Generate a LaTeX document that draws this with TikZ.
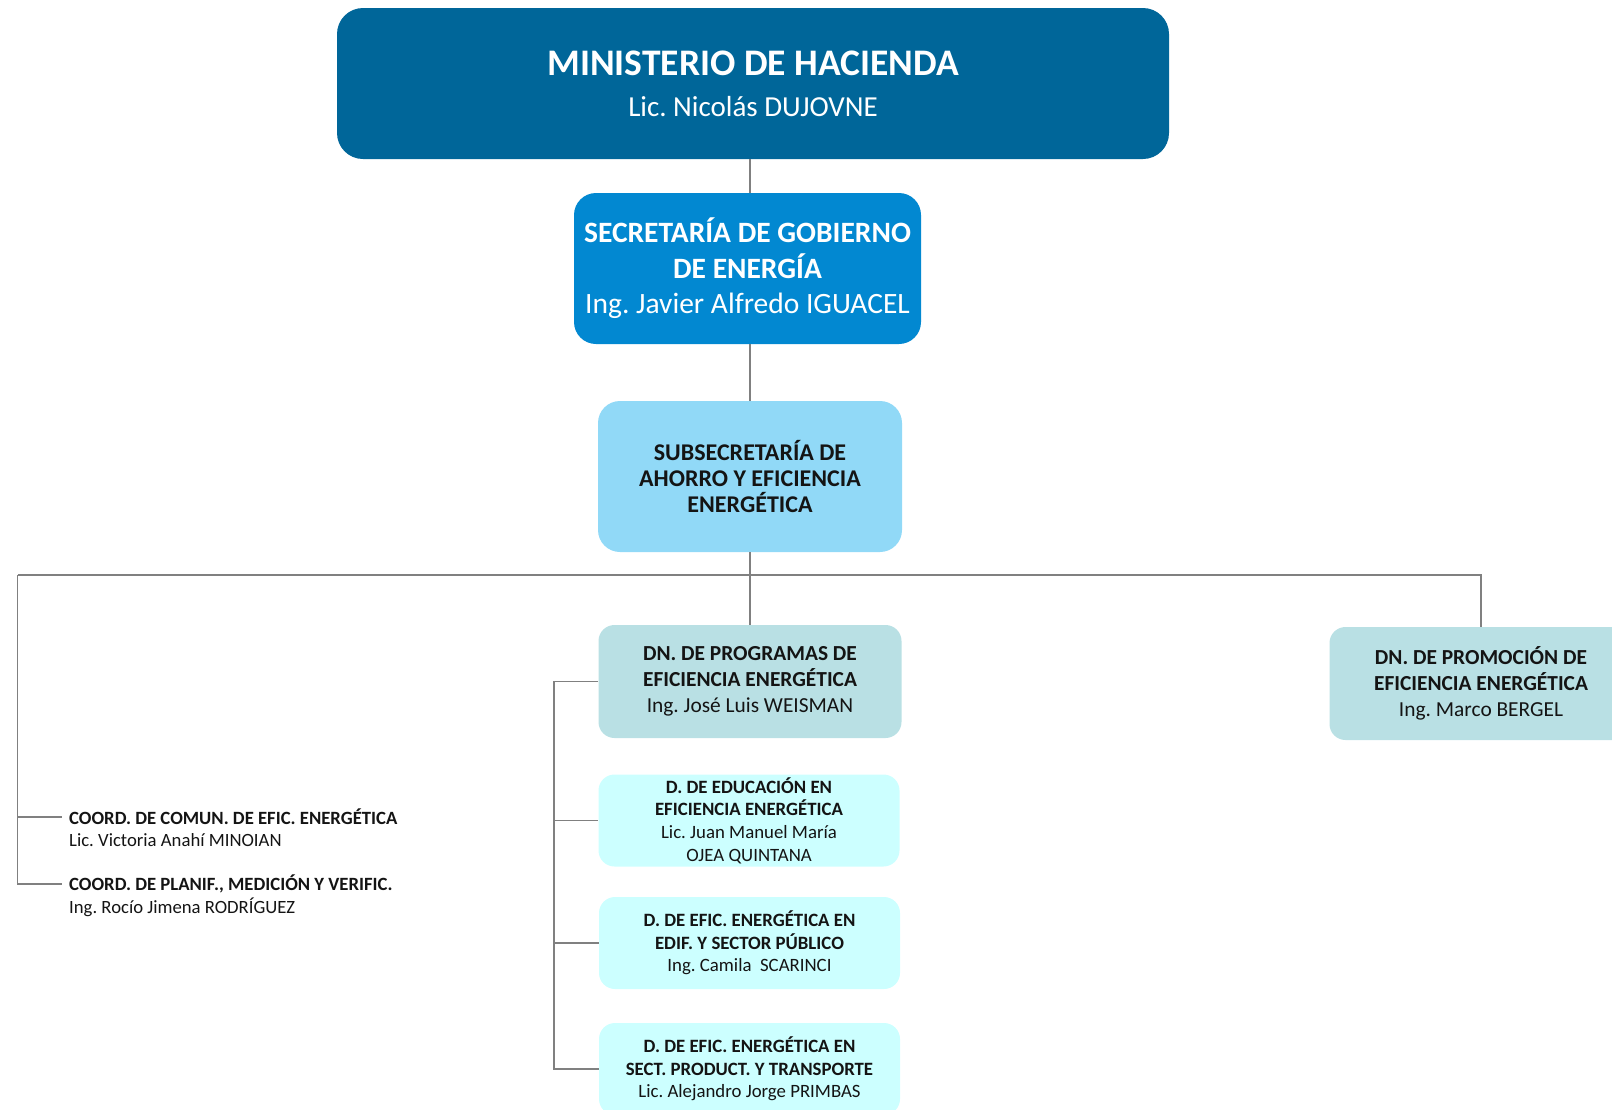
\documentclass[tikz,border=0pt]{standalone}
\usepackage{fontspec}
\setmainfont{Carlito}
\frenchspacing
\definecolor{cMin}{RGB}{0,102,153}
\definecolor{cSec}{RGB}{2,136,209}
\definecolor{cSub}{RGB}{145,217,247}
\definecolor{cDN}{RGB}{185,224,228}
\definecolor{cD}{RGB}{204,255,255}
\definecolor{cLine}{RGB}{128,128,128}
\definecolor{cTxt}{RGB}{20,20,20}
\begin{document}
\begin{tikzpicture}[x=1pt,y=1pt,
  orgbox/.style={rounded corners=#1, draw=none, align=center, inner sep=0pt, anchor=center},
  minbox/.style={orgbox=26pt, fill=cMin, text=white, minimum width=832pt, minimum height=151pt,
     font={\fontsize{29}{41}\selectfont}},
  secbox/.style={orgbox=22pt, fill=cSec, text=white, minimum width=347pt, minimum height=151pt,
     font={\fontsize{29.5}{35.5}\selectfont}},
  subbox/.style={orgbox=22pt, fill=cSub, text=cTxt, minimum width=304pt, minimum height=151pt,
     font={\fontsize{24}{26.2}\selectfont\bfseries}},
  dnbox/.style={orgbox=16pt, fill=cDN, text=cTxt, minimum width=303pt, minimum height=113pt,
     font={\fontsize{21.4}{25.7}\selectfont}},
  dbox/.style={orgbox=16pt, fill=cD, text=cTxt, minimum width=301pt, minimum height=92pt,
     font={\fontsize{18.8}{22.6}\selectfont}},
  coordtxt/.style={anchor=west, inner sep=0pt, text=cTxt, font={\fontsize{18.7}{22.6}\selectfont}},
  conn/.style={draw=cLine, line width=1.8pt}
]
\useasboundingbox (0,0) rectangle (1612,-1109);
\clip (0,0) rectangle (1612,-1109);

\node[minbox] (min) at (753,-83.5) {{\fontsize{37.5}{41}\selectfont\bfseries MINISTERIO DE HACIENDA}\\Lic. Nicolás DUJOVNE};
\node[secbox] (sec) at (747.5,-268.5) {\textbf{SECRETARÍA DE GOBIERNO}\\\textbf{DE ENERGÍA}\\Ing. Javier Alfredo IGUACEL};
\node[subbox] (sub) at (750,-476.5) {SUBSECRETARÍA DE\\AHORRO Y EFICIENCIA\\ENERGÉTICA};
\node[dnbox] (dnprog) at (750,-681.5) {\textbf{DN. DE PROGRAMAS DE}\\\textbf{EFICIENCIA ENERGÉTICA}\\Ing. José Luis WEISMAN};
\node[dnbox] (dnprom) at (1481,-683.5) {\textbf{DN. DE PROMOCIÓN DE}\\\textbf{EFICIENCIA ENERGÉTICA}\\Ing. Marco BERGEL};
\node[dbox] (deduc) at (749,-820.5) {\textbf{D. DE EDUCACIÓN EN}\\\textbf{EFICIENCIA ENERGÉTICA}\\Lic. Juan Manuel María\\OJEA QUINTANA};
\node[dbox] (dedif) at (749.5,-943) {\textbf{D. DE EFIC. ENERGÉTICA EN}\\\textbf{EDIF. Y SECTOR PÚBLICO}\\Ing. Camila\ \ SCARINCI};
\node[dbox] (dsect) at (749.5,-1069) {\textbf{D. DE EFIC. ENERGÉTICA EN}\\\textbf{SECT. PRODUCT. Y TRANSPORTE}\\Lic. Alejandro Jorge PRIMBAS};

\node[coordtxt] (c1) at (69,-817) {\textbf{COORD. DE COMUN. DE EFIC. ENERGÉTICA}};
\node[coordtxt] (c1n) at (69,-840) {Lic. Victoria Anahí MINOIAN};
\node[coordtxt] (c2) at (69,-884) {\textbf{COORD. DE PLANIF., MEDICIÓN Y VERIFIC.}};
\node[coordtxt] (c2n) at (69,-907) {Ing. Rocío Jimena RODRÍGUEZ};

\coordinate (busL) at (17.5,-575);
\coordinate (busR) at (1481,-575);
\coordinate (spine) at (554,-681.5);

\draw[conn] (sub.north |- min.south) -- (sub.north |- sec.north);
\draw[conn] (sub.north |- sec.south) -- (sub.north);
\draw[conn] (sub.south) -- (dnprog.north);
\draw[conn] (busL) -- (busR) -- (dnprom.north);
\draw[conn] (busL) |- ([xshift=-7pt]c2.west);
\draw[conn] (busL) |- ([xshift=-7pt]c1.west);
\draw[conn] (dnprog.west) -- (spine) |- (dsect.west);
\draw[conn] (spine) |- (deduc.west);
\draw[conn] (spine) |- (dedif.west);
\end{tikzpicture}
\end{document}
